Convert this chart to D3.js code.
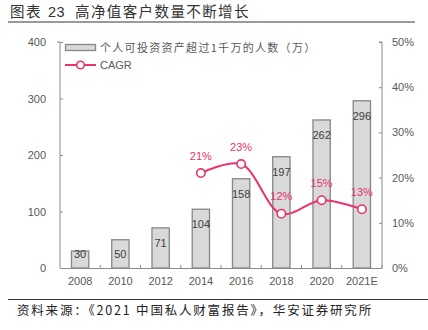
<!DOCTYPE html>
<html><head><meta charset="utf-8">
<script src="https://cdn.jsdelivr.net/npm/d3@7"></script>
<style>
body{margin:0;background:#fff;}
svg{display:block;}
</style></head>
<body>
<svg id="c" width="428" height="330"></svg>
<script>
const categories = ["2008","2010","2012","2014","2016","2018","2020","2021E"];
const people = [30,50,71,104,158,197,262,296];
const cagrCats = ["2014","2016","2018","2020","2021E"];
const cagr = [21,23,12,15,13];
const leftTicks = [0,100,200,300,400];
const rightTicks = [0,10,20,30,40,50];
const titleParts = ["图表","23","高净值客户数量不断增长"];
const source = "资料来源：《2021 中国私人财富报告》，华安证券研究所";
const barLegend = "个人可投资资产超过1千万的人数（万）";
const lineLegend = "CAGR";

const svg = d3.select("#c");
const cjk = "'Noto Sans CJK SC', sans-serif";
const lat = "'Liberation Sans', Arial, sans-serif";
const pink = "#e8336d";
const m = {l:60, r:382, t:42, b:268};

const tx = [10,48,75];
svg.append("g").selectAll("text").data(titleParts).join("text")
  .attr("x",(d,i)=>tx[i]).attr("y",17).attr("font-family",(d,i)=>i===1?lat:cjk).attr("font-size",14.5)
  .attr("letter-spacing",(d,i)=>i===1?0.5:1.4)
  .attr("fill","#333").text(d=>d);
svg.append("rect").attr("x",8).attr("y",21).attr("width",407).attr("height",2).attr("fill","#9a9a9a");

const x = d3.scaleBand().domain(categories).range([m.l,m.r]).paddingInner(0.57).paddingOuter(0.285);
const xb = d3.scaleBand().domain(categories).range([m.l,m.r]);
const y = d3.scaleLinear().domain([0,400]).range([m.b,m.t]);
const y2 = d3.scaleLinear().domain([0,50]).range([m.b,m.t]);

// bars
svg.append("g").selectAll("rect").data(people).join("rect")
  .attr("x",(d,i)=>x(categories[i])).attr("y",d=>y(d))
  .attr("width",x.bandwidth()).attr("height",d=>m.b-y(d))
  .attr("fill","#d9d9d9").attr("stroke","#878787").attr("stroke-width",1.3);
svg.append("g").selectAll("text").data(people).join("text")
  .attr("x",(d,i)=>x(categories[i])+x.bandwidth()/2).attr("y",d=>Math.min(y(d)+19, m.b-10))
  .attr("text-anchor","middle").attr("font-family",lat).attr("font-size",11).attr("fill","#404040")
  .text(d=>d);

// axes
const axL = d3.axisLeft(y).tickValues(leftTicks).tickSize(-3).tickPadding(14);
const gL = svg.append("g").attr("transform",`translate(${m.l},0)`).call(axL);
const axR = d3.axisRight(y2).tickValues(rightTicks).tickSize(-3).tickPadding(10).tickFormat(d=>d+"%");
const gR = svg.append("g").attr("transform",`translate(${m.r},0)`).call(axR);
const axB = d3.axisBottom(xb).tickSize(0).tickPadding(9);
const gB = svg.append("g").attr("transform",`translate(0,${m.b})`).call(axB);
[gL,gR,gB].forEach(g=>{
  g.select(".domain").attr("stroke","#8c8c8c");
  g.selectAll(".tick line").attr("stroke","#8c8c8c");
  g.selectAll("text").attr("font-family",lat).attr("font-size",11).attr("fill","#595959");
});
gL.select(".domain").attr("d",`M-3,${m.t}H0V${m.b}`);
gR.select(".domain").attr("d",`M-3,${m.t}H0V${m.b}`);
svg.append("g").selectAll("line").data(categories.slice(1)).join("line")
  .attr("x1",d=>xb(d)).attr("x2",d=>xb(d)).attr("y1",m.b).attr("y2",m.b-3)
  .attr("stroke","#8c8c8c");
svg.append("line").attr("x1",m.r).attr("x2",m.r).attr("y1",m.b).attr("y2",m.b-3).attr("stroke","#8c8c8c");

// line
const pts = cagr.map((v,i)=>[xb(cagrCats[i])+xb.bandwidth()/2, y2(v)]);
svg.append("path").attr("d",d3.line().curve(d3.curveCatmullRom.alpha(0.5))(pts))
  .attr("fill","none").attr("stroke",pink).attr("stroke-width",2);
svg.append("g").selectAll("circle").data(pts).join("circle")
  .attr("cx",d=>d[0]).attr("cy",d=>d[1]).attr("r",4.2)
  .attr("fill","#fff").attr("stroke",pink).attr("stroke-width",1.6);
svg.append("g").selectAll("text").data(cagr).join("text")
  .attr("x",(d,i)=>pts[i][0]).attr("y",(d,i)=>pts[i][1]-13.5)
  .attr("text-anchor","middle").attr("font-family",lat).attr("font-size",11).attr("fill",pink)
  .text(d=>d+"%");

// legend
svg.append("rect").attr("x",65.5).attr("y",44.5).attr("width",30).attr("height",6)
  .attr("fill","#d9d9d9").attr("stroke","#878787").attr("stroke-width",1.3);
svg.append("text").attr("x",100).attr("y",51.5).attr("font-family",cjk).attr("font-size",11)
  .attr("letter-spacing",1.3).attr("fill","#595959").text(barLegend);
svg.append("line").attr("x1",65).attr("x2",96).attr("y1",65).attr("y2",65).attr("stroke",pink).attr("stroke-width",2);
svg.append("circle").attr("cx",80.5).attr("cy",65).attr("r",3.8).attr("fill","#fff").attr("stroke",pink).attr("stroke-width",1.6);
svg.append("text").attr("x",100).attr("y",69).attr("font-family",lat).attr("font-size",11)
  .attr("fill","#595959").text(lineLegend);

// footer
svg.append("line").attr("x1",8).attr("x2",428).attr("y1",299.5).attr("y2",299.5).attr("stroke","#333").attr("stroke-width",1);
svg.append("text").attr("x",17).attr("y",315).attr("font-family",cjk).attr("font-size",12.5)
  .attr("letter-spacing",1.8).attr("fill","#222").text(source);
</script>
</body></html>
